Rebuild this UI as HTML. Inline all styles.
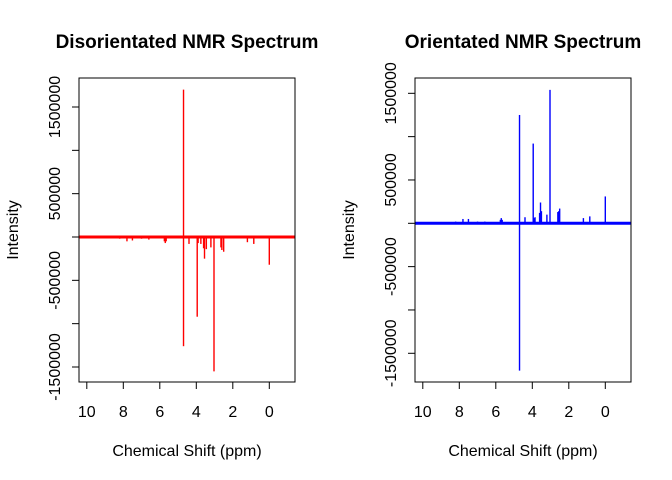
<!DOCTYPE html>
<html><head><meta charset="utf-8"><style>
body{margin:0;background:#fff;}
svg{display:block;font-family:"Liberation Sans",Arial,sans-serif;}
</style></head><body>
<svg id="chart" width="672" height="480" viewBox="0 0 672 480"></svg>
<script>
const xTicks=[10,8,6,4,2,0];
const yTicks=[1500000,1000000,500000,0,-500000,-1000000,-1500000];
const yTickLabels=["1500000","","500000","","-500000","","-1500000"];
const leftPpm=[4.7,4.7,3.95,3.03,0.0,5.7,3.55,3.75,3.2,2.6,2.5,4.4,7.8,7.5,1.2,0.85,6.6,3.45,2.65,5.75,5.65,8.2,7.0,3.9,3.6];
const leftInt=[1700000,-1260000,-920000,-1550000,-320000,-70000,-250000,-80000,-120000,-150000,-170000,-80000,-50000,-40000,-60000,-80000,-30000,-140000,-120000,-50000,-50000,-20000,-20000,-70000,-130000];
const rightPpm=[4.7,4.7,3.95,3.03,3.55,3.5,2.5,2.6,0.0,4.4,3.2,5.7,7.8,7.5,1.2,0.85,8.2,6.6,3.85,5.75,5.65,7.0,3.9,3.6,2.55];
const rightInt=[1250000,-1700000,920000,1540000,240000,140000,170000,130000,310000,70000,100000,60000,50000,50000,60000,80000,20000,20000,70000,40000,40000,20000,60000,120000,140000];

const svg=document.getElementById('chart');
const NS='http://www.w3.org/2000/svg';
function mk(tag,attrs,parent){const e=document.createElementNS(NS,tag);for(const k in attrs)e.setAttribute(k,attrs[k]);(parent||svg).appendChild(e);return e;}

function panel(cfg){
  const g=mk('g',{});
  
  
  const x=p=>cfg.x0-18.25*p;
  const y=v=>cfg.y0-v/500000*43.33;
  const base=mk('line',{x1:cfg.left,x2:cfg.right,y1:y(0),y2:y(0),stroke:cfg.color,'stroke-width':3},g);
  
  
  for(let i=0;i<cfg.ppm.length;i++){
    const s=mk('line',{x1:x(cfg.ppm[i]),x2:x(cfg.ppm[i]),y1:y(0),y2:y(cfg.int[i]),stroke:cfg.color,'stroke-width':1.4},g);
    
    
  }
  const box=mk('rect',{x:cfg.left,y:78,width:cfg.right-cfg.left,height:304,fill:'none',stroke:'#000','stroke-width':1},g);
  
  
  const xa=mk('line',{x1:x(xTicks[0]),x2:x(xTicks[xTicks.length-1]),y1:382,y2:382,stroke:'#000'},g);
  
  
  xTicks.forEach(t=>{
    mk('line',{x1:x(t),x2:x(t),y1:382,y2:389,stroke:'#000'},g);
    const tl=mk('text',{x:x(t),y:417,'text-anchor':'middle','font-size':16},g);
    tl.textContent=t;
    
    
  });
  const ya=mk('line',{x1:cfg.left,x2:cfg.left,y1:y(yTicks[0]),y2:y(yTicks[yTicks.length-1]),stroke:'#000'},g);
  
  
  yTicks.forEach((t,i)=>{
    mk('line',{x1:cfg.left-7,x2:cfg.left,y1:y(t),y2:y(t),stroke:'#000'},g);
    if(yTickLabels[i]){
      const lx=cfg.left-19;
      const tl=mk('text',{x:lx,y:y(t),'text-anchor':'middle','font-size':16,transform:`rotate(-90 ${lx} ${y(t)})`},g);
      tl.textContent=yTickLabels[i];
      
      
    }
  });
  const cx=(cfg.left+cfg.right)/2;
  const ti=mk('text',{x:cx,y:48,'text-anchor':'middle','font-size':19,'font-weight':'bold'},g);
  ti.textContent=cfg.title;
  
  
  const xl=mk('text',{x:cx,y:456,'text-anchor':'middle','font-size':16},g);
  xl.textContent='Chemical Shift (ppm)';
  
  
  const ylx=cfg.left-61;
  const yl=mk('text',{x:ylx,y:230,'text-anchor':'middle','font-size':16,transform:`rotate(-90 ${ylx} 230)`},g);
  yl.textContent='Intensity';
  
  
}
panel({name:'disorientated-panel',title:'Disorientated NMR Spectrum',left:79,right:295,x0:269.3,y0:237,color:'#ff0000',ppm:leftPpm,int:leftInt});
panel({name:'orientated-panel',title:'Orientated NMR Spectrum',left:415,right:631,x0:605.3,y0:223.3,color:'#0000ff',ppm:rightPpm,int:rightInt});
</script>
</body></html>
